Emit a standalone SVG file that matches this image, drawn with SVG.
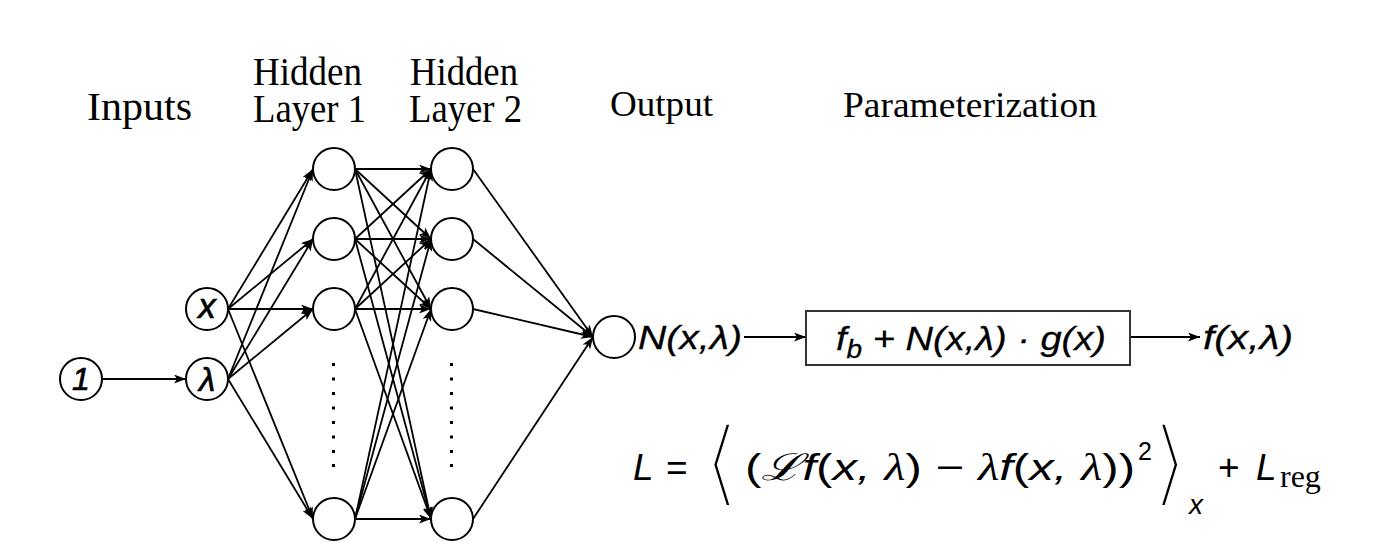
<svg xmlns="http://www.w3.org/2000/svg" width="1398" height="556" viewBox="0 0 1398 556">
<defs>
<marker id="arr" markerUnits="userSpaceOnUse" markerWidth="12" markerHeight="9" refX="12" refY="4.5" orient="auto">
<path d="M0,0 L12,4.5 L0,9 L3,4.5 z" fill="#000"/>
</marker>
</defs>
<style>
.lbl{font-family:"Liberation Serif","Times New Roman",serif;fill:#000}
.nd circle{fill:#fff;stroke:#000;stroke-width:2}
.nt{font-family:"Liberation Sans",Arial,sans-serif;font-style:italic;fill:#000;stroke:#000;stroke-width:0.7;text-anchor:middle}
.it{font-family:"Liberation Sans",Arial,sans-serif;font-style:italic;fill:#000;stroke:#000;stroke-width:0.3}
.mi{font-family:"Liberation Sans",Arial,sans-serif;font-style:italic;fill:#000}
.sf{font-family:"Liberation Sans",Arial,sans-serif;fill:#000}
.cm{font-family:"Liberation Serif","Times New Roman",serif;fill:#000}
.br{font-family:"DejaVu Sans",sans-serif;font-size:96px;fill:#000;stroke:#fff;stroke-width:5.2;stroke-linejoin:miter}
#edges line{stroke:#000;stroke-width:1.8;fill:none;marker-end:url(#arr)}
.dot{fill:#000}
</style>
<rect width="1398" height="556" fill="#fff"/>
<g id="labels">
<text class="lbl" x="87" y="120" font-size="40" textLength="105" lengthAdjust="spacingAndGlyphs">Inputs</text>
<text class="lbl" x="253" y="85" font-size="39" textLength="109" lengthAdjust="spacingAndGlyphs">Hidden</text>
<text class="lbl" x="253" y="122" font-size="39" textLength="113" lengthAdjust="spacingAndGlyphs">Layer 1</text>
<text class="lbl" x="410" y="85" font-size="39" textLength="108" lengthAdjust="spacingAndGlyphs">Hidden</text>
<text class="lbl" x="409" y="122" font-size="39" textLength="113" lengthAdjust="spacingAndGlyphs">Layer 2</text>
<text class="lbl" x="610" y="116" font-size="36" textLength="103" lengthAdjust="spacingAndGlyphs">Output</text>
<text class="lbl" x="843" y="117" font-size="36" textLength="254" lengthAdjust="spacingAndGlyphs">Parameterization</text>
</g>
<g id="edges">
<line x1="102" y1="379" x2="186" y2="379"/>
<line x1="228" y1="309" x2="313" y2="169"/>
<line x1="228" y1="309" x2="313" y2="239"/>
<line x1="228" y1="309" x2="313" y2="309"/>
<line x1="228" y1="309" x2="313" y2="519"/>
<line x1="228" y1="379" x2="313" y2="169"/>
<line x1="228" y1="379" x2="313" y2="239"/>
<line x1="228" y1="379" x2="313" y2="309"/>
<line x1="228" y1="379" x2="313" y2="519"/>
<line x1="355" y1="169" x2="431" y2="169"/>
<line x1="355" y1="169" x2="431" y2="239"/>
<line x1="355" y1="169" x2="431" y2="309"/>
<line x1="355" y1="169" x2="431" y2="519"/>
<line x1="355" y1="239" x2="431" y2="169"/>
<line x1="355" y1="239" x2="431" y2="239"/>
<line x1="355" y1="239" x2="431" y2="309"/>
<line x1="355" y1="239" x2="431" y2="519"/>
<line x1="355" y1="309" x2="431" y2="169"/>
<line x1="355" y1="309" x2="431" y2="239"/>
<line x1="355" y1="309" x2="431" y2="309"/>
<line x1="355" y1="309" x2="431" y2="519"/>
<line x1="355" y1="519" x2="431" y2="169"/>
<line x1="355" y1="519" x2="431" y2="239"/>
<line x1="355" y1="519" x2="431" y2="309"/>
<line x1="355" y1="519" x2="431" y2="519"/>
<line x1="473" y1="169" x2="593" y2="337"/>
<line x1="473" y1="239" x2="593" y2="337"/>
<line x1="473" y1="309" x2="593" y2="337"/>
<line x1="473" y1="519" x2="593" y2="337"/>
<line x1="744" y1="337" x2="806" y2="337"/>
<line x1="1130" y1="337" x2="1200" y2="337"/>
</g>
<g id="in1" class="nd"><circle cx="81" cy="379" r="21"/><text class="nt" x="81" y="390" font-size="32">1</text></g>
<g id="inx" class="nd"><circle cx="207" cy="309" r="21"/><text class="nt" x="207" y="318" font-size="35">x</text></g>
<g id="inl" class="nd"><circle cx="207" cy="379" r="21"/><text class="nt" x="207" y="391" font-size="33">λ</text></g>
<g id="h1a" class="nd"><circle cx="334" cy="169" r="21"/></g>
<g id="h1b" class="nd"><circle cx="334" cy="239" r="21"/></g>
<g id="h1c" class="nd"><circle cx="334" cy="309" r="21"/></g>
<g id="h1d" class="nd"><circle cx="334" cy="519" r="21"/></g>
<g id="h2a" class="nd"><circle cx="452" cy="169" r="21"/></g>
<g id="h2b" class="nd"><circle cx="452" cy="239" r="21"/></g>
<g id="h2c" class="nd"><circle cx="452" cy="309" r="21"/></g>
<g id="h2d" class="nd"><circle cx="452" cy="519" r="21"/></g>
<g id="dots1">
<rect class="dot" x="332" y="363" width="3" height="3"/><rect class="dot" x="332" y="377.5" width="3" height="3"/><rect class="dot" x="332" y="392" width="3" height="3"/><rect class="dot" x="332" y="406.5" width="3" height="3"/><rect class="dot" x="332" y="421" width="3" height="3"/><rect class="dot" x="332" y="435.5" width="3" height="3"/><rect class="dot" x="332" y="450" width="3" height="3"/><rect class="dot" x="332" y="464" width="3" height="3"/>
</g>
<g id="dots2">
<rect class="dot" x="450" y="363" width="3" height="3"/><rect class="dot" x="450" y="377.5" width="3" height="3"/><rect class="dot" x="450" y="392" width="3" height="3"/><rect class="dot" x="450" y="406.5" width="3" height="3"/><rect class="dot" x="450" y="421" width="3" height="3"/><rect class="dot" x="450" y="435.5" width="3" height="3"/><rect class="dot" x="450" y="450" width="3" height="3"/><rect class="dot" x="450" y="464" width="3" height="3"/>
</g>
<g id="out" class="nd"><circle cx="614" cy="337" r="21"/></g>
<g id="outlabel"><text class="it" x="638" y="349" font-size="33" textLength="104" lengthAdjust="spacingAndGlyphs">N(x,λ)</text></g>
<g id="param">
<rect x="806" y="311" width="324" height="54" fill="#fff" stroke="#333" stroke-width="2"/>
<text class="it" x="836" y="350" font-size="34" textLength="270" lengthAdjust="spacingAndGlyphs">f<tspan font-size="25" dy="8">b</tspan><tspan dy="-8"> + N(x,λ) · g(x)</tspan></text>
</g>
<g id="result"><text class="it" x="1203" y="349" font-size="33" textLength="90" lengthAdjust="spacingAndGlyphs">f(x,λ)</text></g>
<g id="loss">
<text class="mi" x="633" y="480" font-size="37">L</text>
<text class="sf" x="666" y="480" font-size="37">=</text>
<text class="br" x="703" y="495">⟨</text>
<text class="mi" x="745" y="480" font-size="37" textLength="390" lengthAdjust="spacingAndGlyphs"><tspan font-style="normal">(</tspan><tspan class="cm">ℒ</tspan>f<tspan font-style="normal">(</tspan>x, <tspan class="cm">λ</tspan><tspan font-style="normal">) − </tspan><tspan class="cm">λ</tspan>f<tspan font-style="normal">(</tspan>x, <tspan class="cm">λ</tspan><tspan font-style="normal">))</tspan></text>
<text class="sf" x="1138" y="460" font-size="25">2</text>
<text class="br" x="1151" y="495">⟩</text>
<text class="mi" x="1189" y="514" font-size="28">x</text>
<text class="sf" x="1218" y="480" font-size="37">+</text>
<text class="mi" x="1256" y="480" font-size="37">L</text>
<text class="cm" x="1280" y="487" font-size="32">reg</text>
</g>
</svg>
